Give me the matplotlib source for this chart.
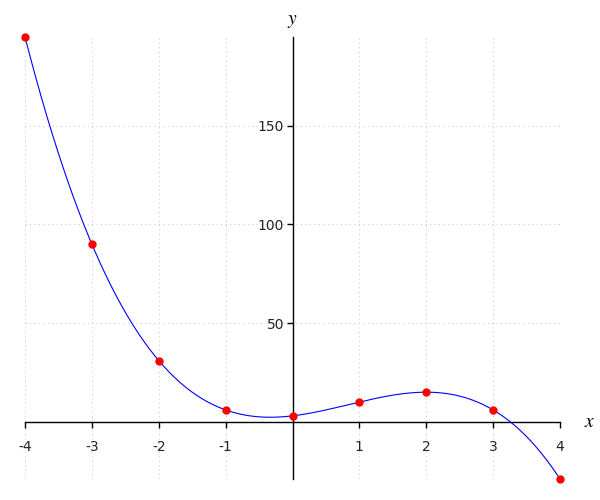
import numpy as np
import matplotlib
matplotlib.use("Agg")
import matplotlib.pyplot as plt

plt.rcParams["mathtext.fontset"] = "stix"
plt.rcParams["axes.unicode_minus"] = False

# sample points
xs = [-4, -3, -2, -1, 0, 1, 2, 3, 4]
ys = [195, 90, 31, 6, 3, 10, 15, 6, -29]

xticks = [-4, -3, -2, -1, 1, 2, 3, 4]
yticks = [50, 100, 150]

# smooth curve through the points (cubic fit)
coef = np.polyfit(xs, ys, 3)
xx = np.linspace(min(xs), max(xs), 400)
yy = np.polyval(coef, xx)

fig = plt.figure(figsize=(6, 5), dpi=100)
ax = fig.add_axes([25 / 600, 21 / 500, 535 / 600, 442 / 500])

ax.plot(xx, yy, color="blue", lw=0.8, zorder=3, clip_on=False)
ax.plot(xs, ys, "o", color="red", ms=5, zorder=4, clip_on=False)

ax.set_xlim(min(xs), max(xs))
ax.set_ylim(min(ys), max(ys))

ax.spines["left"].set_position(("data", 0))
ax.spines["bottom"].set_position(("data", 0))
ax.spines["right"].set_visible(False)
ax.spines["top"].set_visible(False)
for s in ("left", "bottom"):
    ax.spines[s].set_linewidth(1.0)
    ax.spines[s].set_color("black")

ax.set_xticks(xticks)
ax.set_yticks(yticks)
ax.tick_params(axis="x", direction="out", length=4, width=1, pad=9, labelsize=10, labelcolor="#222222")
ax.tick_params(axis="y", direction="out", length=4, width=1, pad=2, labelsize=10, labelcolor="#222222")

# dotted grid
for x in xs:
    ax.axvline(x, color="#cccccc", ls=(0, (1, 3)), lw=0.8, zorder=0)
for y in yticks:
    ax.axhline(y, color="#cccccc", ls=(0, (1, 3)), lw=0.8, zorder=0)

ax.text(0, 1.015, "$y$", transform=ax.get_xaxis_transform(), ha="center", va="bottom", fontsize=14)
ax.text(1.056, 0, "$x$", transform=ax.get_yaxis_transform(), ha="center", va="center", fontsize=14)

fig.savefig("out.png", dpi=100)
